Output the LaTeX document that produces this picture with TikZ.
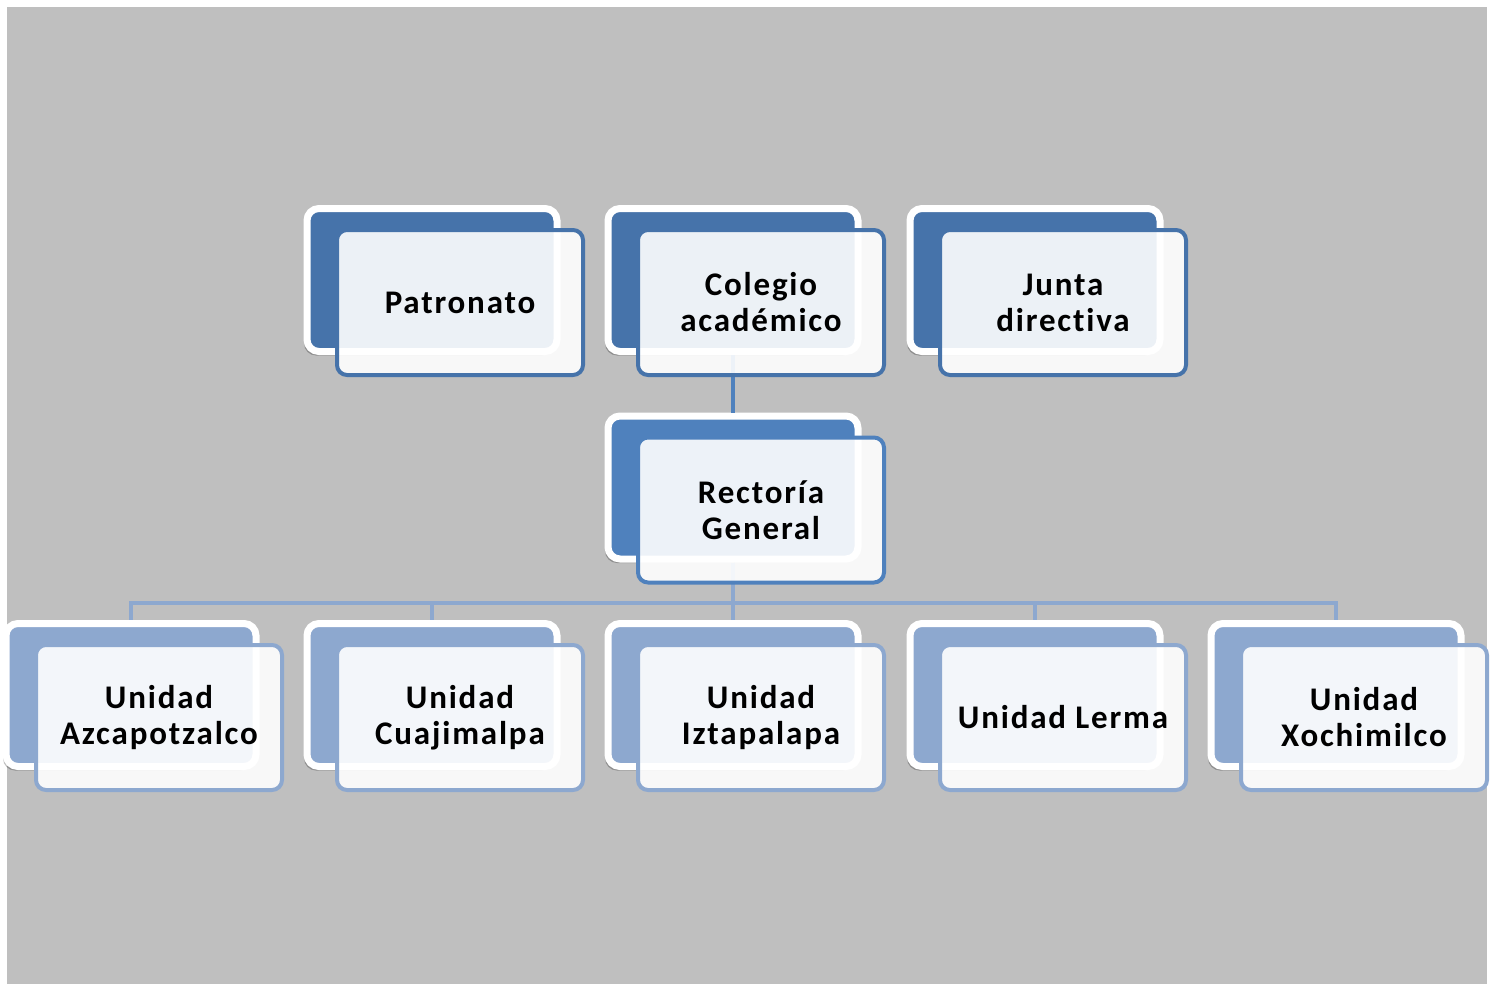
\documentclass[tikz,border=0pt]{standalone}
\usepackage{fontspec}
\newfontfamily\boxfont[LetterSpace=5.5,Ligatures=NoCommon]{Carlito}
\usetikzlibrary{shadows}
\definecolor{topblue}{HTML}{4673AA}
\definecolor{midblue}{HTML}{4F81BD}
\definecolor{lowblue}{HTML}{8DA8CF}
\definecolor{bggray}{HTML}{BFBFBF}
\tikzset{
  backbox/.style={draw=white, line width=3.5pt, fill=#1, rounded corners=6pt,
    minimum width=125pt, minimum height=71.5pt,
    drop shadow={shadow xshift=-1.5pt, shadow yshift=-2pt, opacity=.25, fill=black}},
  frontbox/.style={draw=#1, line width=2pt, fill=white, fill opacity=.9, text opacity=1,
    rounded corners=5pt, minimum width=123pt, minimum height=72.5pt, align=center,
    font=\boxfont\bfseries\fontsize{16.5}{18}\selectfont},
  link/.style={line width=2.2pt}
}
\begin{document}
\begin{tikzpicture}[x=0.5pt,y=-0.5pt]
  \useasboundingbox (0,0) rectangle (1496,985);
  \fill [bggray] (7,7) rectangle (1487,984);

  % back shapes
  \node [backbox=topblue] (patronatoB) at (432,280) {};
  \node [backbox=topblue] (colegioB)   at (733,280) {};
  \node [backbox=topblue] (juntaB)     at (1035,280) {};
  \node [backbox=midblue] (rectoriaB)  at (733,487.5) {};
  \node [backbox=lowblue] (azcB)  at (131,695) {};
  \node [backbox=lowblue] (cuaB)  at (432,695) {};
  \node [backbox=lowblue] (iztB)  at (733,695) {};
  \node [backbox=lowblue] (lerB)  at (1035,695) {};
  \node [backbox=lowblue] (xocB)  at (1336,695) {};

  % connectors
  \coordinate (bus) at (733,603);
  \draw [link,midblue] (colegioB.south) -- (rectoriaB.north);
  \foreach \u in {azcB,cuaB,iztB,lerB,xocB}
    \draw [link,lowblue] (rectoriaB.south) -- (bus) -| (\u.north);

  % front shapes
  \node [frontbox=topblue] (patronato) at (460,302.5) {Patronato};
  \node [frontbox=topblue] (colegio)   at (761,302.5) {Colegio\\académico};
  \node [frontbox=topblue] (junta)     at (1063,302.5) {Junta\\directiva};
  \node [frontbox=midblue] (rectoria)  at (761,510) {Rectoría\\General};
  \node [frontbox=lowblue] (azc) at (159,717.5)  {Unidad\\Azcapotzalco};
  \node [frontbox=lowblue] (cua) at (460,717.5)  {Unidad\\Cuajimalpa};
  \node [frontbox=lowblue] (izt) at (761,717.5)  {Unidad\\Iztapalapa};
  \node [frontbox=lowblue] (ler) at (1063,717.5) {Unidad Lerma};
  \node [frontbox=lowblue] (xoc) at (1364,717.5) {Unidad\\Xochimilco};
\end{tikzpicture}
\end{document}
